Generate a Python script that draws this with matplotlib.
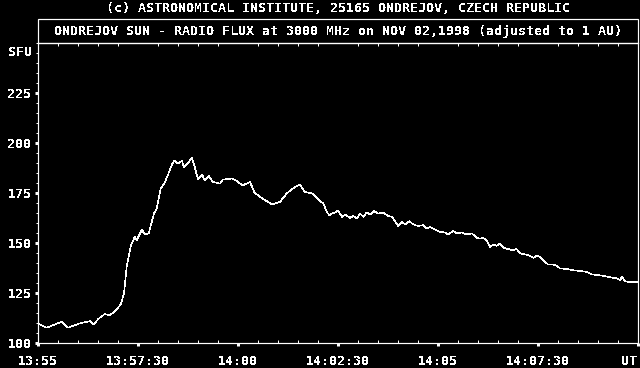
import matplotlib
matplotlib.use("Agg")
import matplotlib.pyplot as plt
from matplotlib.ticker import MultipleLocator, FixedLocator
from matplotlib.patches import Rectangle
import matplotlib.transforms as mtransforms

# seconds after 13:55 UT
t_sec = [0, 13, 25, 36, 45, 63, 78, 84, 90, 100, 108, 117, 124, 129, 133, 139,
         145, 148, 156, 160, 166, 174, 178, 184, 190, 195, 202, 205, 210, 216,
         219, 223, 231, 235, 240, 246, 250, 256, 262, 273, 277, 291, 298, 307,
         318, 325, 337, 351, 363, 373, 382, 393, 400, 412,
         423, 428, 433, 437, 441, 446, 450, 456, 461, 468, 473, 478, 483, 488,
         493, 498, 504, 510, 518, 525, 531, 536, 540, 546, 551, 557, 563, 570,
         578, 583, 588, 596, 603, 611, 615, 623, 628, 636, 643, 651, 658, 663,
         668, 673, 678, 683, 688, 693, 698, 705, 713, 718, 723, 731, 738, 743,
         748, 753, 758, 765, 773, 778, 783, 793, 803, 813, 823, 831, 838, 848,
         855, 863, 869, 873, 876, 880, 888, 895, 900]
flux_sfu = [109.6, 107.4, 109.0, 110.4, 107.4, 109.6, 110.7, 109.0, 111.7, 114.2,
            113.7, 116.2, 119.0, 124.6, 137.9, 148.2, 152.9, 151.2, 156.6, 154.0,
            154.6, 164.6, 167.0, 177.0, 179.9, 184.0, 189.9, 191.2, 189.6, 191.0,
            187.6, 189.2, 192.4, 188.0, 181.6, 184.2, 181.2, 183.4, 180.4, 179.6,
            181.6, 182.1, 180.9, 178.7, 180.4, 174.9, 172.1, 169.1, 170.4, 174.6,
            177.1, 179.2, 175.4, 174.6,
            170.8, 169.6, 165.4, 163.8, 164.6, 165.1, 166.2, 162.9, 164.1, 162.4,
            163.4, 162.1, 164.6, 162.9, 165.1, 164.1, 165.8, 164.6, 165.1, 163.4,
            162.9, 160.4, 158.4, 160.4, 159.1, 160.8, 159.1, 158.4, 158.8, 157.1,
            157.9, 156.6, 155.4, 155.1, 154.1, 155.8, 154.6, 155.1, 154.1, 154.6,
            152.4, 152.1,
            152.4, 151.2, 147.9, 149.1, 148.4, 149.6, 147.4, 146.8, 146.2, 146.8,
            144.6, 144.1, 143.4, 142.4, 143.4, 142.9, 141.2, 139.1, 139.1, 138.4,
            137.1, 136.8, 136.2, 135.8, 135.4, 134.1, 133.8, 133.4, 132.9, 132.4,
            132.1, 131.2, 132.9, 130.8, 130.1, 130.4, 130.1]

x_ticks = [0, 150, 300, 450, 600, 750, 900]
x_labels = ["13:55", "13:57:30", "14:00", "14:02:30", "14:05", "14:07:30", "UT"]
y_ticks = [100, 125, 150, 175, 200, 225]

title1 = "(c) ASTRONOMICAL INSTITUTE, 25165 ONDREJOV, CZECH REPUBLIC"
title2 = "ONDREJOV SUN - RADIO FLUX at 3000 MHz on NOV 02,1998 (adjusted to 1 AU)"

W, H = 640, 368
FONT = dict(family="DejaVu Sans Mono", weight="bold", size=9.6, color="white")
px = 72 / 100.0  # points per pixel

plt.rcParams["text.antialiased"] = False

fig = plt.figure(figsize=(W / 100, H / 100), dpi=100, facecolor="black")
L, R, T, B = 38, 638, 43, 342.5
ax = fig.add_axes([L / W, 1 - B / H, (R - L) / W, (B - T) / H], facecolor="black")

ax.plot(t_sec, flux_sfu, color="white", lw=0.4, antialiased=False)
ax.set_xlim(0, 900)
ax.set_ylim(100, 250)

for s in ax.spines.values():
    s.set_color("white")
    s.set_linewidth(1.2 * px)

ax.xaxis.set_major_locator(FixedLocator(x_ticks))
ax.set_xticklabels(x_labels, fontdict=FONT)
ax.xaxis.set_minor_locator(MultipleLocator(30))
ax.yaxis.set_major_locator(FixedLocator(y_ticks))
ax.set_yticklabels([str(v) for v in y_ticks], fontdict=FONT)
ax.yaxis.set_minor_locator(MultipleLocator(5))

ax.tick_params(axis="x", which="major", direction="out", length=3 * px, width=3 * px,
               color="white", pad=7, top=False)
ax.tick_params(axis="x", which="minor", direction="in", length=3 * px, width=1 * px,
               color="white", top=True, bottom=True)
ax.tick_params(axis="y", which="major", direction="out", length=3 * px, width=3 * px,
               color="white", pad=2.5)
ax.tick_params(axis="y", which="minor", direction="out", length=2 * px, width=1 * px,
               color="white")
for lab in ax.get_xticklabels() + ax.get_yticklabels():
    lab.set_color("white")
last = ax.get_xticklabels()[-1]
last.set_horizontalalignment("right")
last.set_transform(last.get_transform() +
                   mtransforms.ScaledTranslation(-1 / 100, 0, fig.dpi_scale_trans))

# SFU unit label
trans = mtransforms.blended_transform_factory(fig.transFigure, ax.transData)
ax.text(32.5 / W, 245, "SFU", transform=trans, ha="right", va="center", **FONT)

# title box above the plot
fig.patches.append(Rectangle((L / W, 1 - T / H), (R - L) / W, (T - 19.3) / H,
                             transform=fig.transFigure, fill=False,
                             edgecolor="white", linewidth=1.2 * px))
fig.text(338 / W, 1 - 31.5 / H, title2, ha="center", va="center", **FONT)
fig.text(338 / W, 1 - 8 / H, title1, ha="center", va="center", **FONT)

fig.savefig("out.png", dpi=100, facecolor="black")
